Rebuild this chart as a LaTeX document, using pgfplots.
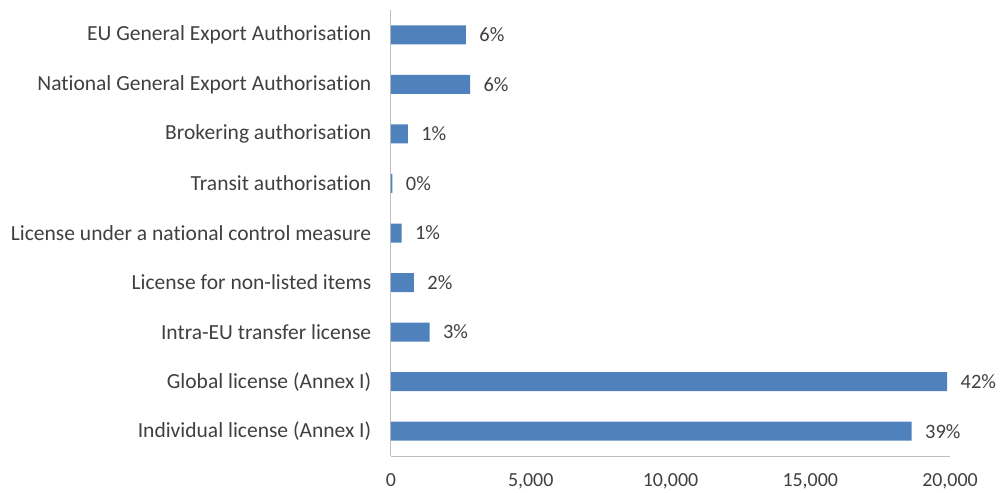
\documentclass[border=0pt]{standalone}
\usepackage{fontspec}
\setmainfont{Carlito}[Ligatures=NoCommon]
\usepackage{pgfplots}
\pgfplotsset{compat=1.18}
\definecolor{barblue}{HTML}{4F81BD}
\definecolor{txt}{HTML}{404040}
\definecolor{axgray}{HTML}{BFBFBF}
\begin{document}
\begin{tikzpicture}
\begin{axis}[
    name=ax,
    scale only axis,
    width=559bp, height=446bp,
    xbar,
    bar width=19bp,
    xmin=0, xmax=20000,
    ymin=-0.5, ymax=8.5,
    ytick={0,...,8},
    yticklabels={Individual license (Annex I), Global license (Annex I), Intra-EU transfer license, License for non-listed items, License under a national control measure, Transit authorisation, Brokering authorisation, National General Export Authorisation, EU General Export Authorisation},
    xtick={0,5000,10000,15000,20000},
    scaled x ticks=false,
    /pgf/number format/assume math mode=true,
    /pgf/number format/1000 sep={,},
    axis x line*=bottom,
    axis y line*=left,
    axis line style={axgray, line width=1pt, -},
    major tick style={draw=none},
    xticklabel style={font=\fontsize{20}{24}\selectfont, text=txt, yshift=-14bp},
    yticklabel style={font=\fontsize{21.6}{25}\selectfont, text=txt, xshift=-12bp},
    point meta=explicit symbolic,
    nodes near coords,
    nodes near coords style={font=\fontsize{20.5}{24}\selectfont, text=txt, anchor=west, xshift=10bp},
]
\addplot[fill=barblue, draw=none] table[meta=lab] {
x y lab
18630 0 39\%
19900 1 42\%
1380 2 3\%
820 3 2\%
380 4 1\%
50 5 0\%
600 6 1\%
2830 7 6\%
2680 8 6\%
};
\end{axis}
\pgfresetboundingbox
\path[use as bounding box] ([shift={(-391bp,-37bp)}]ax.south west) rectangle ++(1001bp,493bp);
\end{tikzpicture}
\end{document}
